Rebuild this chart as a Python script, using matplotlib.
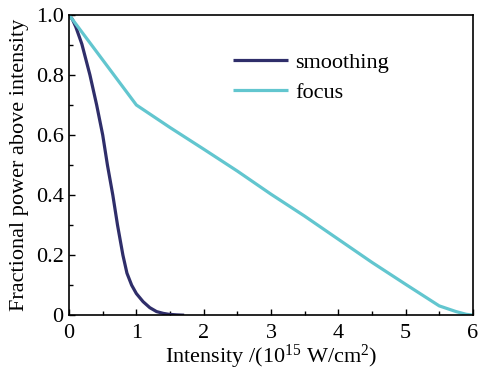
import matplotlib
matplotlib.use("Agg")
import matplotlib.pyplot as plt
from matplotlib.ticker import MultipleLocator

smooth_x = [0.0, 0.05, 0.1, 0.19, 0.31, 0.41, 0.50, 0.57, 0.65, 0.72, 0.80, 0.86, 0.93, 1.0, 1.10, 1.20, 1.30, 1.40, 1.48, 1.60, 1.71]
smooth_y = [1.0, 0.985, 0.96, 0.903, 0.80, 0.70, 0.60, 0.50, 0.40, 0.30, 0.20, 0.14, 0.10, 0.072, 0.045, 0.025, 0.012, 0.006, 0.003, 0.001, 0.0]
focus_x = [0.0, 0.5, 1.0, 1.5, 2.0, 2.5, 3.0, 3.5, 4.0, 4.5, 5.0, 5.5, 5.75, 5.9, 6.0]
focus_y = [1.0, 0.85, 0.70, 0.625, 0.553, 0.48, 0.403, 0.33, 0.253, 0.176, 0.103, 0.031, 0.012, 0.003, 0.0]

plt.rcParams['font.family'] = ['Liberation Serif', 'DejaVu Serif']
plt.rcParams['mathtext.fontset'] = 'custom'
plt.rcParams['mathtext.rm'] = 'Liberation Serif'
plt.rcParams['mathtext.it'] = 'Liberation Serif:italic'
fig = plt.figure(figsize=(4.83, 3.73), dpi=100)
ax = fig.add_axes([0.143, 0.155, 0.836, 0.805])
ax.plot(smooth_x, smooth_y, color='#2f2e6a', lw=2.3, label='smoothing', solid_capstyle='butt')
ax.plot(focus_x, focus_y, color='#62c6cf', lw=2.3, label='focus', solid_capstyle='butt')
ax.set_xlim(0, 6)
ax.set_ylim(0, 1.0)
ax.xaxis.set_major_locator(MultipleLocator(1))
ax.xaxis.set_minor_locator(MultipleLocator(0.5))
ax.yaxis.set_minor_locator(MultipleLocator(0.1))
ax.set_yticks([0, 0.2, 0.4, 0.6, 0.8, 1.0])
ax.set_yticklabels(['0', '0.2', '0.4', '0.6', '0.8', '1.0'])
ax.tick_params(which='both', direction='in', labelsize=16)
ax.tick_params(which='major', length=4, width=1)
ax.tick_params(which='minor', length=3, width=1)
ax.tick_params(axis='x', which='major', pad=6)
ax.tick_params(axis='y', which='major', pad=4)
for s in ax.spines.values():
    s.set_linewidth(1.2)
ax.set_xlabel('Intensity /(10$^{15}$ W/cm$^{2}$)', fontsize=16, labelpad=0)
ax.set_ylabel('Fractional power above intensity', fontsize=16, labelpad=5)
ax.legend(loc='upper left', bbox_to_anchor=(0.383, 0.905), frameon=False, fontsize=16,
          handlelength=2.5, handletextpad=0.3, labelspacing=0.42, borderaxespad=0)
fig.savefig('out.png', dpi=100)
